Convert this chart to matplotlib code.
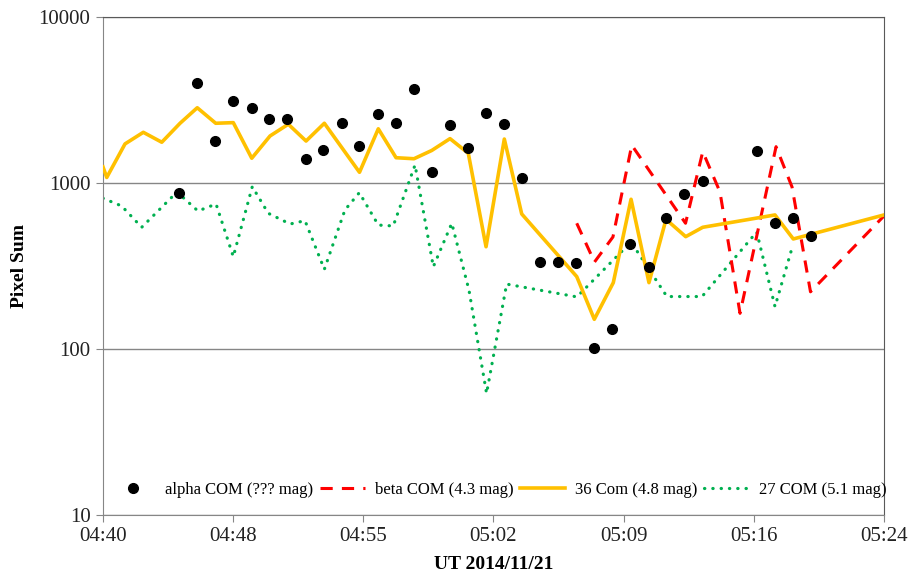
import matplotlib
matplotlib.use("Agg")
import matplotlib.pyplot as plt
import matplotlib.ticker as mticker

plt.rcParams['font.family'] = ['Liberation Serif', 'DejaVu Serif']

# minutes after 04:40 UT
alpha_t = [4.30, 5.31, 6.31, 7.34, 8.38, 9.35, 10.38, 11.44, 12.41, 13.45, 14.44,
           15.51, 16.49, 17.52, 18.55, 19.55, 20.55, 21.58, 22.59, 23.59, 24.62,
           25.62, 26.65, 27.68, 28.68, 29.71, 30.76, 31.72, 32.75, 33.79, 36.83,
           37.86, 38.86, 39.89]
alpha_v = [874, 3990, 1800, 3120, 2840, 2440, 2440, 1400, 1580, 2300, 1680,
           2590, 2300, 3670, 1170, 2230, 1630, 2630, 2260, 1070, 333,
           336, 328, 102, 132, 429, 313, 615, 862, 1030, 1560,
           577, 618, 479]

beta_t = [26.69, 27.69, 28.73, 29.79, 32.82, 33.79, 34.76, 35.89, 37.92, 38.82, 39.86, 44.0]
beta_v = [572, 334, 473, 1690, 572, 1545, 883, 164, 1655, 946, 221, 633]

com36_t = [0.0, 0.21, 1.24, 2.27, 3.31, 4.34, 5.31, 6.35, 7.34, 8.38, 9.41, 10.44,
           11.44, 12.47, 13.46, 14.45, 15.51, 16.51, 17.52, 18.52, 19.55, 20.58,
           21.58, 22.61, 23.59, 26.69, 27.68, 28.75, 29.75, 30.76, 31.72, 32.83,
           33.79, 37.86, 38.89, 44.0]
com36_v = [1250, 1080, 1720, 2020, 1760, 2290, 2840, 2290, 2310, 1410, 1920, 2260,
           1790, 2290, 1630, 1160, 2120, 1420, 1400, 1570, 1850, 1510,
           413, 1840, 651, 273, 151, 251, 798, 251, 604, 475,
           541, 642, 460, 642]

com27_t = [0.0, 1.05, 2.18, 4.17, 5.35, 6.37, 7.34, 8.41, 9.31, 10.54, 11.38, 12.47,
           13.63, 14.44, 15.51, 16.35, 17.58, 18.61, 19.65, 20.62, 21.61, 22.74,
           26.70, 29.75, 31.77, 33.75, 36.83, 37.86, 38.82]
com27_v = [809, 727, 541, 883, 678, 747, 360, 950, 657, 566, 593, 302,
           688, 874, 558, 551, 1284, 313, 572, 226, 54, 246,
           206, 441, 207, 207, 507, 180, 406]

x_ticks = [0, 44 / 6, 88 / 6, 22, 176 / 6, 220 / 6, 44]
x_labels = ['04:40', '04:48', '04:55', '05:02', '05:09', '05:16', '05:24']
y_ticks = [10, 100, 1000, 10000]

fig = plt.figure(figsize=(9.1, 5.78), dpi=100)
ax = fig.add_axes([0.1132, 0.109, 0.8582, 0.8616])

ax.plot(beta_t, beta_v, color='#FF0000', lw=2.2, dashes=(4, 3),
        label='beta COM (4.3 mag)', zorder=3)
ax.plot(com36_t, com36_v, color='#FFC000', lw=2.6,
        label='36 Com (4.8 mag)', zorder=3)
ax.plot(com27_t, com27_v, color='#00B050', lw=2.3, linestyle=(0, (0.1, 2.5)),
        dash_capstyle='round', label='27 COM (5.1 mag)', zorder=2)
ax.plot(alpha_t, alpha_v, 'o', color='black', ms=7,
        label='alpha COM (??? mag)', zorder=4)

ax.set_yscale('log')
ax.set_ylim(10, 10000)
ax.set_xlim(0, 44)
ax.set_yticks(y_ticks)
ax.yaxis.set_major_formatter(mticker.FuncFormatter(lambda v, p: f'{int(v)}'))
ax.yaxis.set_minor_locator(mticker.NullLocator())
ax.set_xticks(x_ticks)
ax.set_xticklabels(x_labels)

ax.yaxis.grid(True, color='#868686', lw=1)
ax.set_axisbelow(True)
for s in ['left', 'bottom']:
    ax.spines[s].set_color('#868686')
for s in ['top', 'right']:
    ax.spines[s].set_color('#595959')
ax.tick_params(axis='both', direction='out', length=5, color='#868686',
               labelsize=15, labelcolor='#222222', pad=4)

ax.set_ylabel('Pixel Sum', fontsize=14, fontweight='bold', labelpad=8)
ax.set_xlabel('UT 2014/11/21', fontsize=14, fontweight='bold', labelpad=7)

handles, labels = ax.get_legend_handles_labels()
order = [3, 0, 1, 2]
ax.legend([handles[i] for i in order], [labels[i] for i in order],
          loc='lower right', bbox_to_anchor=(1.004, 0.035), ncol=4, frameon=False,
          fontsize=12, handlelength=2.7, handletextpad=0.6, columnspacing=0.4,
          numpoints=1, borderpad=0, borderaxespad=0)

fig.savefig('out.png', dpi=100)
